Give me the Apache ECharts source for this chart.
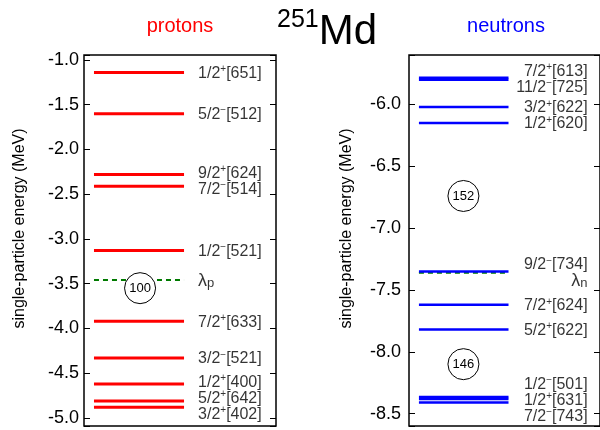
<!DOCTYPE html>
<html>
<head>
<meta charset="utf-8">
<script src="https://cdn.jsdelivr.net/npm/echarts@6/dist/echarts.min.js"></script>
<style>html,body{margin:0;padding:0;background:#fff}#c{width:600px;height:430px}</style>
</head>
<body>
<div id="c"></div>
<script>
// ---------------- data ----------------
const protonEnergies = [-1.14, -1.60, -2.28, -2.41, -3.13, -3.92, -4.33, -4.62, -4.81, -4.88];
const protonK        = ['1/2', '5/2', '9/2', '7/2', '1/2', '7/2', '3/2', '1/2', '5/2', '3/2'];
const protonParity   = ['+', '-', '+', '-', '-', '+', '-', '+', '+', '+'];
const protonNilsson  = ['[651]', '[512]', '[624]', '[514]', '[521]', '[633]', '[521]', '[400]', '[642]', '[402]'];
const protonFermi    = -3.46;
const protonGapLabels   = ['100'];
const protonGapEnergies = [-3.55];

const neutronEnergies = [-5.783, -5.80, -6.02, -6.15, -7.35, -7.62, -7.82, -8.366, -8.382, -8.41];
const neutronK        = ['7/2', '11/2', '3/2', '1/2', '9/2', '7/2', '5/2', '1/2', '1/2', '7/2'];
const neutronParity   = ['+', '-', '+', '+', '-', '+', '+', '-', '+', '-'];
const neutronNilsson  = ['[613]', '[725]', '[622]', '[620]', '[734]', '[624]', '[622]', '[501]', '[631]', '[743]'];
const neutronFermi    = -7.36;
const neutronGapLabels   = ['152', '146'];
const neutronGapEnergies = [-6.74, -8.10];

const titleMass = '251';
const titleElement = 'Md';
const panelTitles = ['protons', 'neutrons'];
const yAxisName = 'single-particle energy (MeV)';

// ---------------- layout / style ----------------
const FONT = '"Liberation Sans", Arial, Helvetica, sans-serif';
const W = 600, H = 430;
const panels = [
  { E: protonEnergies, K: protonK, P: protonParity, N: protonNilsson, fermi: protonFermi, sub: 'p',
    gapL: protonGapLabels, gapE: protonGapEnergies, color: '#ff0000', lw: 3,
    min: -5.09, max: -0.945, split: 8,
    grid: { left: 84, right: 324, top: 55, bottom: 4 },
    labelX: 0.594, side: 'right', labelMargin: 5, nameGap: 56, gapX: 0.292, title: panelTitles[0], titleColor: '#ff0000' },
  { E: neutronEnergies, K: neutronK, P: neutronParity, N: neutronNilsson, fermi: neutronFermi, sub: 'n',
    gapL: neutronGapLabels, gapE: neutronGapEnergies, color: '#0000ff', lw: 2.5,
    min: -8.6, max: -5.6, split: 6,
    grid: { left: 409, right: -3, top: 55, bottom: 4 },
    labelX: 0.935, side: 'left', labelMargin: 8, nameGap: 54, gapX: 0.285, title: panelTitles[1], titleColor: '#0000ff' }
];
const LINE_X0 = 0.052, LINE_X1 = 0.521;
const LABEL_SPACING_PX = 16;
const LABEL_OFFSET_PX = 1;

function spread(energies, ppm) {
  const dE = LABEL_SPACING_PX / ppm;
  const idx = energies.map((e, i) => ({ i, e })).sort((a, b) => b.e - a.e);
  let groups = idx.map(m => ({ members: [m], c: m.e }));
  let changed = true;
  while (changed) {
    changed = false;
    for (let g = 0; g < groups.length - 1; g++) {
      const A = groups[g], B = groups[g + 1];
      const aLow = A.c - (A.members.length - 1) / 2 * dE;
      const bHigh = B.c + (B.members.length - 1) / 2 * dE;
      if (aLow - bHigh < dE - 1e-9) {
        const members = A.members.concat(B.members);
        const c = members.reduce((s, m) => s + m.e, 0) / members.length;
        groups.splice(g, 2, { members, c });
        changed = true;
        break;
      }
    }
  }
  const out = new Array(energies.length);
  groups.forEach(G => {
    const n = G.members.length;
    G.members.forEach((m, k) => {
      out[m.i] = G.c + ((n - 1) / 2 - k) * dE - LABEL_OFFSET_PX / ppm;
    });
  });
  return out;
}

const grids = [], xAxes = [], yAxes = [], series = [], graphics = [];
const richStyles = {
  t: { fontSize: 16, fontFamily: FONT, color: '#000', lineHeight: 18 },
  sup: { fontSize: 10, fontFamily: FONT, color: '#000', lineHeight: 10, verticalAlign: 'top' },
  l: { fontSize: 18, fontFamily: FONT, color: '#000', lineHeight: 18 },
  sub: { fontSize: 13, fontFamily: FONT, color: '#000', lineHeight: 12, verticalAlign: 'bottom' }
};
const tickFmt = v => (Math.abs(v * 2 - Math.round(v * 2)) < 1e-6 ? v.toFixed(1) : '');

panels.forEach((p, gi) => {
  grids.push(Object.assign({ show: true, borderColor: '#000', borderWidth: 1.5, backgroundColor: 'transparent' }, p.grid));
  xAxes.push({ gridIndex: gi, type: 'value', min: 0, max: 1, show: false });
  const common = { gridIndex: gi, type: 'value', min: p.min, max: p.max, splitNumber: p.split,
    splitLine: { show: false }, axisLine: { show: false },
    axisTick: { show: true, inside: true, length: 6, lineStyle: { color: '#000', width: 1 } } };
  yAxes.push(Object.assign({}, common, {
    position: 'left', name: yAxisName, nameLocation: 'middle', nameGap: p.nameGap, nameRotate: 90,
    nameTextStyle: { fontSize: 16, fontFamily: FONT, color: '#000', padding: [0, 0, 0, 24] },
    axisLabel: { show: true, fontSize: 18, fontFamily: FONT, color: '#000', margin: p.labelMargin, formatter: tickFmt }
  }));
  yAxes.push(Object.assign({}, common, { position: 'right', axisLabel: { show: false } }));
  const yi = gi * 2;

  const gridH = H - p.grid.top - p.grid.bottom;
  const ppm = gridH / (p.max - p.min);

  series.push({
    type: 'custom', xAxisIndex: gi, yAxisIndex: yi, z: 3,
    data: p.E.map(e => [e]),
    renderItem: (params, api) => {
      const e = api.value(0);
      const a = api.coord([LINE_X0, e]), b = api.coord([LINE_X1, e]);
      return { type: 'line', shape: { x1: a[0], y1: a[1], x2: b[0], y2: b[1] },
        style: { stroke: p.color, lineWidth: p.lw } };
    }
  });
  series.push({
    type: 'custom', xAxisIndex: gi, yAxisIndex: yi, z: 2,
    data: [[p.fermi]],
    renderItem: (params, api) => {
      const e = api.value(0);
      const a = api.coord([LINE_X0, e]), b = api.coord([LINE_X1, e]);
      return { type: 'line', shape: { x1: a[0], y1: a[1], x2: b[0], y2: b[1] },
        style: { stroke: '#007a00', lineWidth: 2, lineDash: [5, 4] } };
    }
  });
  const allE = p.E.concat([p.fermi]);
  const labE = spread(allE, ppm);
  const labTexts = p.E.map((e, i) => '{t|' + p.K[i] + '}{sup|' + (p.P[i] === '-' ? '\u2212' : '+') + '}{t|' + p.N[i] + '}')
    .concat(['{l|\u03bb}{sub|' + p.sub + '}']);
  series.push({
    type: 'scatter', xAxisIndex: gi, yAxisIndex: yi, z: 4, symbolSize: 0, silent: true,
    data: labE.map((e, i) => ({ value: [p.labelX, e], name: labTexts[i] })),
    label: { show: true, position: p.side, distance: 0, formatter: prm => prm.name, rich: richStyles }
  });
  series.push({
    type: 'scatter', xAxisIndex: gi, yAxisIndex: yi, z: 5, symbol: 'circle', symbolSize: 31,
    itemStyle: { color: '#fff', borderColor: '#000', borderWidth: 1, opacity: 1 },
    data: p.gapE.map((e, i) => ({ value: [p.gapX, e], name: p.gapL[i] })),
    label: { show: true, position: 'inside', formatter: prm => prm.name, fontSize: 13, fontFamily: FONT, color: '#000' }
  });

  const cx = p.grid.left + (W - p.grid.left - p.grid.right) / 2;
  graphics.push({ type: 'text', x: cx, y: 26, style: { text: p.title, fill: p.titleColor, font: '20px ' + FONT, align: 'center', verticalAlign: 'middle' } });
});

graphics.push({ type: 'text', x: 277, y: 8, style: {
  text: '{a|' + titleMass + '}{b|' + titleElement + '}', align: 'left', verticalAlign: 'top',
  rich: { a: { fontSize: 25, fontFamily: FONT, fill: '#000', color: '#000', verticalAlign: 'top', lineHeight: 25 },
          b: { fontSize: 42, fontFamily: FONT, fill: '#000', color: '#000', lineHeight: 48 } } } });

const chart = echarts.init(document.getElementById('c'), null, { renderer: 'canvas' });
chart.setOption({
  animation: false,
  backgroundColor: '#fff',
  grid: grids, xAxis: xAxes, yAxis: yAxes, series: series, graphic: graphics
});
</script>
</body>
</html>
